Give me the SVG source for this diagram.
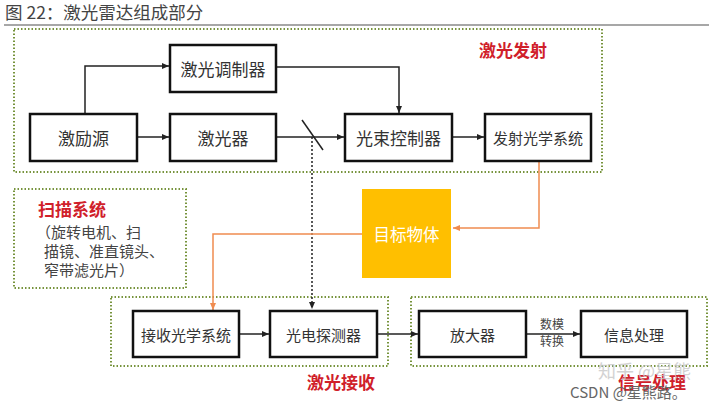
<svg xmlns="http://www.w3.org/2000/svg" width="709" height="411" viewBox="0 0 709 411">
<defs>
<style>
.t{font-family:"Noto Sans CJK SC","Noto Sans",sans-serif;}
.box{fill:#fff;stroke:#111;stroke-width:2.5;}
.bt{font-size:17px;fill:#333;text-anchor:middle;dominant-baseline:central;}
.grp{fill:none;stroke:#77933c;stroke-width:2;stroke-dasharray:1.5 2;}
.red{fill:#d0202a;font-weight:bold;font-size:17px;}
.ln{fill:none;stroke:#222;stroke-width:1.5;}
.or{fill:none;stroke:#f08c50;stroke-width:1.5;}
.sc{font-size:15px;fill:#444;}
</style>
<marker id="ab" markerWidth="8" markerHeight="8" refX="7" refY="4" orient="auto" markerUnits="userSpaceOnUse"><path d="M0,1 L7,4 L0,7 Z" fill="#222"/></marker>
<marker id="ao" markerWidth="8" markerHeight="8" refX="7" refY="4" orient="auto" markerUnits="userSpaceOnUse"><path d="M0,1 L7,4 L0,7 Z" fill="#f08c50"/></marker>
</defs>
<rect width="709" height="411" fill="#fff"/>
<text class="t" x="5" y="19" font-size="17.5" fill="#444">图 22：激光雷达组成部分</text>
<line x1="4" y1="25" x2="709" y2="25" stroke="#8a8a8a" stroke-width="1.5"/>

<g id="groups">
<rect class="grp" x="14" y="29" width="588" height="143"/>
<rect class="grp" x="14" y="189" width="172" height="99"/>
<rect class="grp" x="111" y="297" width="277" height="69"/>
<rect class="grp" x="411" y="297" width="296" height="69"/>
<text class="t red" x="479" y="57">激光发射</text>
<text class="t red" x="38" y="216">扫描系统</text>
<text class="t sc" x="36" y="238">（旋转电机、扫</text>
<text class="t sc" x="44" y="257">描镜、准直镜头、</text>
<text class="t sc" x="44" y="276">窄带滤光片）</text>
<text class="t red" x="307" y="389">激光接收</text>
<text class="t red" x="618" y="389">信号处理</text>
</g>

<g id="connectors">
<polyline class="ln" points="85,114 85,66 169,66" marker-end="url(#ab)"/>
<polyline class="ln" points="276,67 399,67 399,113" marker-end="url(#ab)"/>
<line class="ln" x1="137" y1="137" x2="169" y2="137" marker-end="url(#ab)"/>
<line class="ln" x1="276" y1="137" x2="344" y2="137" marker-end="url(#ab)"/>
<line class="ln" x1="302" y1="120" x2="323" y2="150"/>
<line x1="312" y1="137" x2="312" y2="309" stroke="#222" stroke-width="1.5" stroke-dasharray="2 2" marker-end="url(#ab)"/>
<line class="ln" x1="452" y1="137" x2="484" y2="137" marker-end="url(#ab)"/>
<polyline class="or" points="539,161 539,228 453,228" marker-end="url(#ao)"/>
<polyline class="or" points="362,234 213,234 213,310" marker-end="url(#ao)"/>
<line class="ln" x1="239" y1="334" x2="269" y2="334" marker-end="url(#ab)"/>
<line class="ln" x1="377" y1="334" x2="418" y2="334" marker-end="url(#ab)"/>
<line class="ln" x1="526" y1="334" x2="580" y2="334" marker-end="url(#ab)"/>
<text class="t" x="552" y="329" font-size="12" fill="#444" text-anchor="middle">数模</text>
<text class="t" x="552" y="346" font-size="12" fill="#444" text-anchor="middle">转换</text>
</g>

<g id="n-modulator"><rect class="box" x="170" y="45" width="106" height="47"/><text class="t bt" x="223" y="68.5">激光调制器</text></g>
<g id="n-pump"><rect class="box" x="30" y="114" width="107" height="47"/><text class="t bt" x="83.5" y="137.5">激励源</text></g>
<g id="n-laser"><rect class="box" x="170" y="114" width="106" height="47"/><text class="t bt" x="223" y="137.5">激光器</text></g>
<g id="n-beam"><rect class="box" x="345" y="114" width="107" height="47"/><text class="t bt" x="398.5" y="137.5">光束控制器</text></g>
<g id="n-txoptics"><rect class="box" x="485" y="114" width="106" height="47"/><text class="t bt" x="538" y="137.5" style="font-size:15px">发射光学系统</text></g>
<g id="n-target"><rect x="362" y="189" width="89" height="89" fill="#ffbf00"/><text class="t bt" x="406.5" y="233.5" style="fill:#fff;font-size:16.5px">目标物体</text></g>
<g id="n-rxoptics"><rect class="box" x="133" y="311" width="106" height="46"/><text class="t bt" x="186" y="334" style="font-size:15px">接收光学系统</text></g>
<g id="n-detector"><rect class="box" x="270" y="311" width="107" height="46"/><text class="t bt" x="323.5" y="334" style="font-size:15px">光电探测器</text></g>
<g id="n-amp"><rect class="box" x="419" y="311" width="107" height="46"/><text class="t bt" x="472.5" y="334" style="font-size:15px">放大器</text></g>
<g id="n-info"><rect class="box" x="581" y="311" width="106" height="46"/><text class="t bt" x="634" y="334" style="font-size:15px">信息处理</text></g>

<text class="t" x="598" y="378" font-size="18" fill="#c8c8c8" opacity="0.8">知乎 @星熊</text>
<text class="t" x="570" y="398" font-size="15" fill="#666">CSDN @星熊路。</text>
</svg>
